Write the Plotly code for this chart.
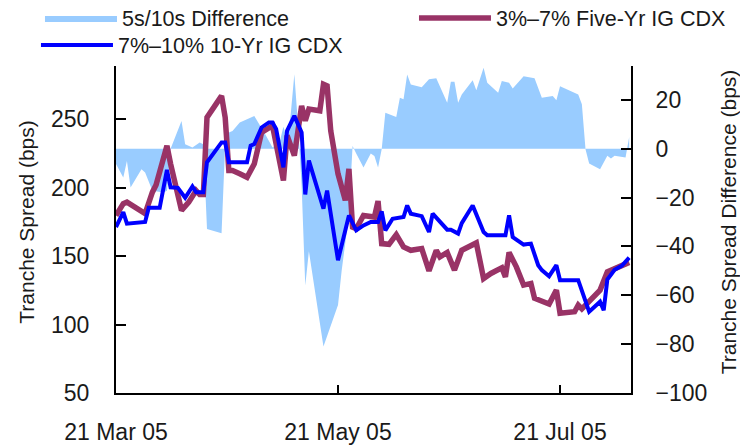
import plotly.graph_objects as go

FONT = "Liberation Sans"

# ---- data ----
diff_dates = ["2005-03-21", "2005-03-23", "2005-03-24", "2005-03-25", "2005-03-28", "2005-03-29",
              "2005-03-31", "2005-04-03", "2005-04-04", "2005-04-05", "2005-04-08", "2005-04-09",
              "2005-04-11", "2005-04-13", "2005-04-14", "2005-04-15", "2005-04-19", "2005-04-20",
              "2005-04-21", "2005-04-22", "2005-04-24", "2005-04-28", "2005-05-01", "2005-05-03",
              "2005-05-05", "2005-05-06", "2005-05-07", "2005-05-08", "2005-05-09", "2005-05-10",
              "2005-05-11", "2005-05-12", "2005-05-13", "2005-05-17", "2005-05-21", "2005-05-22",
              "2005-05-24", "2005-05-25", "2005-05-26", "2005-05-28", "2005-05-30", "2005-05-31",
              "2005-06-01", "2005-06-02", "2005-06-03", "2005-06-06", "2005-06-07", "2005-06-08",
              "2005-06-09", "2005-06-10", "2005-06-13", "2005-06-15", "2005-06-17", "2005-06-20",
              "2005-06-21", "2005-06-22", "2005-06-23", "2005-06-24", "2005-06-27", "2005-06-28",
              "2005-06-30", "2005-07-01", "2005-07-04", "2005-07-05", "2005-07-07", "2005-07-08",
              "2005-07-11", "2005-07-14", "2005-07-16", "2005-07-19", "2005-07-20", "2005-07-21",
              "2005-07-26", "2005-07-27", "2005-07-28", "2005-07-29", "2005-08-01", "2005-08-03",
              "2005-08-04", "2005-08-05", "2005-08-08", "2005-08-09"]
diff_values = [-6.3, -11.8, -5.0, -15.9, -8.4, -9.7,
               -17.2, -17.9, -17.2, 0.0, 11.3, 1.8,
               0.5, 2.5, 1.8, -32.9, -34.6, 1.8,
               6.6, 7.3, 10.7, 13.4, 5.9, 0.5,
               3.0, 9.0, 4.0, 14.0, 30.5, 10.0,
               -15.0, -56.0, -42.0, -81.0, -64.0, -50.0,
               -27.0, 1.1, -2.0, -7.7, -2.0, -3.0,
               -7.7, -0.2, 14.7, 13.0, 20.9, 20.2,
               30.4, 26.3, 25.2, 28.4, 28.8, 18.8,
               27.4, 27.4, 18.8, 22.2, 28.0, 23.9,
               33.1, 27.0, 22.9, 27.7, 27.0, 24.7,
               29.7, 28.8, 20.9, 21.6, 19.8, 25.6,
               22.2, 18.2, -0.2, -6.1, -8.4, -2.9,
               -4.0, -2.9, -3.6, 4.8]

five_dates = ["2005-03-21", "2005-03-23", "2005-03-24", "2005-03-29", "2005-03-31", "2005-04-01",
              "2005-04-04", "2005-04-05", "2005-04-08", "2005-04-10", "2005-04-12", "2005-04-13",
              "2005-04-14", "2005-04-15", "2005-04-19", "2005-04-20", "2005-04-21", "2005-04-22",
              "2005-04-24", "2005-04-26", "2005-04-28", "2005-04-30", "2005-05-03", "2005-05-06",
              "2005-05-07", "2005-05-09", "2005-05-11", "2005-05-12", "2005-05-13", "2005-05-15",
              "2005-05-16", "2005-05-17", "2005-05-18", "2005-05-19", "2005-05-21", "2005-05-23",
              "2005-05-24", "2005-05-25", "2005-05-26", "2005-05-28", "2005-05-31", "2005-06-01",
              "2005-06-02", "2005-06-04", "2005-06-06", "2005-06-08", "2005-06-10", "2005-06-13",
              "2005-06-15", "2005-06-17", "2005-06-18", "2005-06-20", "2005-06-22", "2005-06-24",
              "2005-06-28", "2005-06-30", "2005-07-02", "2005-07-05", "2005-07-06", "2005-07-07",
              "2005-07-09", "2005-07-11", "2005-07-13", "2005-07-14", "2005-07-18", "2005-07-20",
              "2005-07-21", "2005-07-25", "2005-07-26", "2005-07-27", "2005-08-01", "2005-08-03",
              "2005-08-05", "2005-08-09"]
five_values = [179.8, 188.4, 189.5, 181.1, 196.8, 202.0,
               230.8, 217.5, 183.5, 189.5, 198.0, 195.1,
               195.1, 251.4, 267.2, 251.4, 212.6, 212.6,
               210.3, 207.7, 217.5, 240.5, 245.4, 205.3,
               238.2, 223.5, 259.9, 249.0, 257.5, 256.3,
               256.3, 275.7, 274.5, 241.7, 210.2, 190.8,
               213.8, 171.3, 170.1, 179.8, 178.6, 190.3,
               159.2, 158.7, 165.8, 156.8, 154.3, 155.6,
               139.3, 154.3, 149.5, 152.7, 139.8, 154.3,
               159.7, 133.7, 137.4, 141.5, 134.9, 152.7,
               142.2, 128.9, 130.1, 119.2, 115.0, 125.2,
               108.3, 109.4, 114.3, 111.5, 125.2, 138.5,
               141.0, 145.5]

ten_dates = ["2005-03-21", "2005-03-23", "2005-03-24", "2005-03-29", "2005-03-30", "2005-04-02",
             "2005-04-04", "2005-04-05", "2005-04-07", "2005-04-09", "2005-04-11", "2005-04-12",
             "2005-04-14", "2005-04-15", "2005-04-19", "2005-04-20", "2005-04-21", "2005-04-26",
             "2005-04-27", "2005-04-28", "2005-04-30", "2005-05-02", "2005-05-03", "2005-05-04",
             "2005-05-06", "2005-05-07", "2005-05-09", "2005-05-11", "2005-05-12", "2005-05-13",
             "2005-05-17", "2005-05-18", "2005-05-21", "2005-05-24", "2005-05-26", "2005-05-28",
             "2005-05-30", "2005-06-01", "2005-06-02", "2005-06-03", "2005-06-05", "2005-06-08",
             "2005-06-09", "2005-06-10", "2005-06-13", "2005-06-15", "2005-06-16", "2005-06-18",
             "2005-06-20", "2005-06-21", "2005-06-23", "2005-06-24", "2005-06-27", "2005-06-30",
             "2005-07-01", "2005-07-06", "2005-07-07", "2005-07-08", "2005-07-11", "2005-07-13",
             "2005-07-15", "2005-07-16", "2005-07-18", "2005-07-20", "2005-07-21", "2005-07-26",
             "2005-07-29", "2005-08-01", "2005-08-02", "2005-08-03", "2005-08-05", "2005-08-07",
             "2005-08-09"]
ten_values = [171.3, 182.2, 173.8, 175.0, 185.4, 185.4,
              213.1, 200.4, 200.0, 192.7, 201.0, 196.8,
              196.8, 218.6, 233.2, 233.2, 218.6, 218.6,
              230.8, 232.0, 244.1, 247.8, 247.8, 243.0,
              215.0, 241.7, 252.6, 240.5, 195.1, 219.9,
              184.7, 198.0, 147.1, 179.8, 168.9, 172.5,
              175.0, 175.0, 182.7, 168.9, 177.4, 178.6,
              187.1, 181.1, 179.3, 167.7, 181.1, 175.5,
              169.4, 169.4, 166.5, 174.2, 187.1, 167.7,
              165.3, 165.3, 179.8, 164.0, 158.5, 159.2,
              143.4, 139.8, 135.4, 143.4, 132.5, 132.5,
              109.4, 116.7, 110.5, 133.0, 140.0, 143.0,
              149.0]

x_tickvals = ["2005-03-21", "2005-05-21", "2005-07-21"]
x_ticktext = ["21 Mar 05", "21 May 05", "21 Jul 05"]
left_tickvals = [50, 100, 150, 200, 250, 300]
right_tickvals = [-100, -80, -60, -40, -20, 0, 20, 40]

fig = go.Figure()
fig.add_trace(go.Scatter(
    x=diff_dates, y=diff_values, name="5s/10s Difference",
    mode="lines", fill="tozeroy", fillcolor="#99CCFF",
    line=dict(width=0, color="#99CCFF"), yaxis="y", legend="legend2"))
fig.add_trace(go.Scatter(
    x=five_dates, y=five_values, name="3%\u20137% Five-Yr IG CDX",
    mode="lines", line=dict(color="#993366", width=5.5), yaxis="y2", legend="legend3"))
fig.add_trace(go.Scatter(
    x=ten_dates, y=ten_values, name="7%\u201310% 10-Yr IG CDX",
    mode="lines", line=dict(color="#0000FF", width=4), yaxis="y2", legend="legend"))

axis_font = dict(family=FONT, size=23, color="#1a1a1a")
title_font = dict(family=FONT, size=21, color="#1a1a1a")
legend_font = dict(family=FONT, size=21.5, color="#1a1a1a")

common_legend = dict(xanchor="left", yanchor="middle",
                     bgcolor="white", font=legend_font, itemwidth=72)

fig.update_layout(
    width=740, height=445,
    margin=dict(l=116, r=109, t=51, b=52, autoexpand=False),
    paper_bgcolor="white", plot_bgcolor="white",
    font=dict(family=FONT, size=21, color="#1a1a1a"),
    showlegend=True,
    legend=dict(common_legend, orientation="h", x=-0.1554, y=1.0175,
                entrywidth=615, entrywidthmode="pixels"),
    legend2=dict(common_legend, orientation="v", x=-0.1476, y=1.0965),
    legend3=dict(common_legend, orientation="v", x=0.5786, y=1.0965),
    xaxis=dict(
        type="date", range=["2005-03-21", "2005-08-09 12:00"],
        tickvals=x_tickvals, ticktext=x_ticktext,
        ticks="inside", ticklen=8, tickwidth=2, tickcolor="black",
        showline=True, linecolor="black", linewidth=2,
        showgrid=False, zeroline=False, tickfont=axis_font,
        ticklabelstandoff=17,
    ),
    yaxis=dict(
        side="right", range=[-100, 40], tickvals=right_tickvals,
        ticks="inside", ticklen=10, tickwidth=2, tickcolor="black",
        showline=True, linecolor="black", linewidth=2,
        showgrid=False, zeroline=False, tickfont=axis_font,
        ticklabelstandoff=18,
        title=dict(text="Tranche Spread Difference (bps)", font=title_font, standoff=22),
    ),
    yaxis2=dict(
        side="left", overlaying="y", range=[50, 300], tickvals=left_tickvals,
        ticks="inside", ticklen=10, tickwidth=2, tickcolor="black",
        showline=True, linecolor="black", linewidth=2,
        showgrid=False, zeroline=False, tickfont=axis_font,
        ticklabelstandoff=20,
        title=dict(text="Tranche Spread (bps)", font=title_font, standoff=11),
    ),
)

fig.write_html("out.html", config={"displayModeBar": False},
               post_script="document.body.style.margin='0px';")
